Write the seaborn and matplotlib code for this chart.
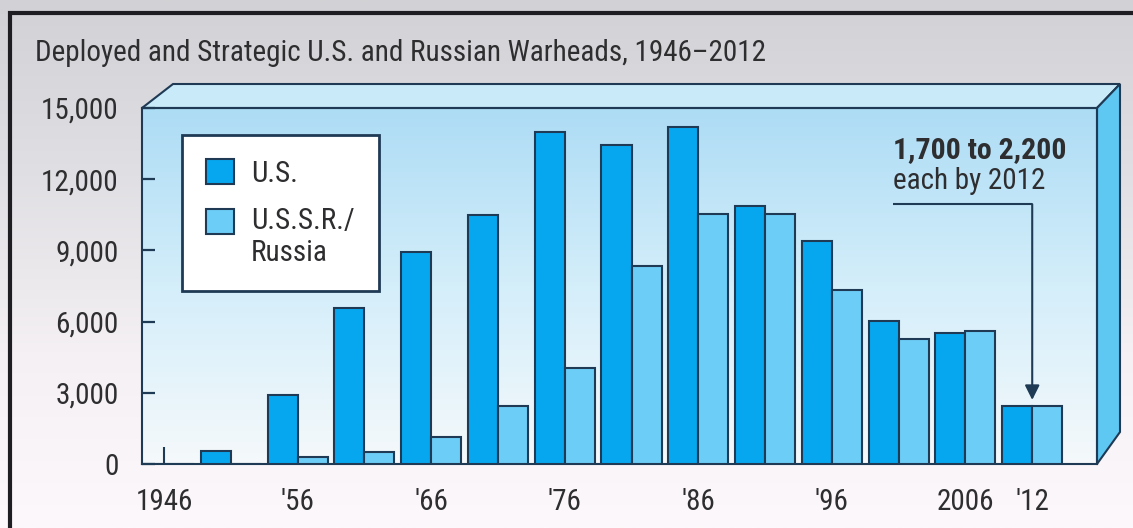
import numpy as np
import pandas as pd
import matplotlib
matplotlib.use('Agg')
import matplotlib.pyplot as plt
import seaborn as sns
from matplotlib import font_manager
from matplotlib.font_manager import FontProperties
from matplotlib.patches import Polygon, Patch, Rectangle
from matplotlib.legend_handler import HandlerPatch
from matplotlib.colors import LinearSegmentedColormap

# ---------------- data ----------------
years = ['1946', '1951', '1956', '1961', '1966', '1971', '1976',
         '1981', '1986', '1991', '1996', '2001', '2006', '2012']
us_warheads = [0, 550, 2900, 6570, 8930, 10490, 13990,
               13450, 14200, 10870, 9400, 6030, 5520, 2440]
russia_warheads = [0, 0, 300, 500, 1140, 2440, 4050,
                   8330, 10520, 10520, 7330, 5270, 5600, 2440]
series_names = ['U.S.', 'U.S.S.R./\nRussia']
x_tick_positions = [0, 2, 4, 6, 8, 10, 12, 13]
x_tick_labels = ['1946', "'56", "'66", "'76", "'86", "'96", '2006', "'12"]
y_ticks = [0, 3000, 6000, 9000, 12000, 15000]
title_text = 'Deployed and Strategic U.S. and Russian Warheads, 1946\u20132012'
note_bold = '1,700 to 2,200'
note_text = 'each by 2012'

# ---------------- style ----------------
US_COL = '#06a7ee'
RU_COL = '#6ccdf6'
EDGE = '#1f3a55'
TXT = '#2e2e30'

sns.set_theme(style='white')


def pick_font(cands):
    for f in cands:
        try:
            font_manager.findfont(FontProperties(family=f), fallback_to_default=False)
            return f
        except Exception:
            continue
    return 'DejaVu Sans'


FONT = pick_font(['Liberation Sans Narrow', 'Roboto Condensed', 'Arial Narrow',
                  'Nimbus Sans Narrow', 'Archivo Narrow', 'Barlow Semi Condensed',
                  'Asap Condensed', 'Liberation Sans'])
plt.rcParams['font.family'] = [FONT, 'DejaVu Sans']

W, H = 1133, 528
fig = plt.figure(figsize=(W / 100, H / 100), dpi=100)


def fx(px):
    return px / W


def fy(py):
    return 1 - py / H


# background axes (figure-fraction coordinates)
bg = fig.add_axes([0, 0, 1, 1], zorder=-10)
bg.set_xlim(0, 1)
bg.set_ylim(0, 1)
bg.axis('off')
grad = np.linspace(0, 1, 256).reshape(-1, 1)
bg_cmap = LinearSegmentedColormap.from_list('bg', ['#d2d2d6', '#e0dfe3', '#f4f0f3', '#fdf8fb'])
bg.imshow(grad, aspect='auto', cmap=bg_cmap, extent=[0, 1, 0, 1], origin='upper', zorder=0)

# frame lines
bg.plot([fx(8), 1], [fy(13), fy(13)], color='#1e1e22', lw=3.0, solid_capstyle='butt', zorder=2)
bg.plot([fx(10), fx(10)], [0, fy(11)], color='#1e1e22', lw=3.0, solid_capstyle='butt', zorder=2)

# box geometry (pixels)
L, R, T, B = 142, 1097, 108, 464
DXL, DXR, DY = 31, 23, 24

# front face gradient
front_cmap = LinearSegmentedColormap.from_list('front', ['#addcf5', '#d4eefa', '#f5f9fb'])
bg.imshow(grad, aspect='auto', cmap=front_cmap,
          extent=[fx(L), fx(R), fy(B), fy(T)], origin='upper', zorder=1)

# top face
top_face = Polygon([(fx(L), fy(T)), (fx(L + DXL), fy(T - DY)),
                    (fx(R + DXR), fy(T - DY)), (fx(R), fy(T))],
                   closed=True, facecolor='#c8eaf9', edgecolor=EDGE, lw=1.5, zorder=3)
bg.add_patch(top_face)
# right face
right_face = Polygon([(fx(R), fy(T)), (fx(R + DXR), fy(T - DY)),
                      (fx(R + DXR), fy(B - 32)), (fx(R), fy(B))],
                     closed=True, facecolor='#5ec7f2', edgecolor=EDGE, lw=1.5, zorder=3)
bg.add_patch(right_face)

# title
fig.text(fx(35), fy(53), title_text, ha='left', va='center', fontsize=21, color=TXT)

# ---------------- main axes ----------------
ax = fig.add_axes([fx(L), fy(B), (R - L) / W, (B - T) / H])
ax.set_facecolor('none')

df = pd.DataFrame({
    'year': years * 2,
    'warheads': us_warheads + russia_warheads,
    'country': [series_names[0]] * len(years) + [series_names[1]] * len(years),
})

sns.barplot(data=df, x='year', y='warheads', hue='country', hue_order=series_names,
            palette=[US_COL, RU_COL], saturation=1, width=0.9,
            edgecolor=EDGE, linewidth=1.5, legend=False, ax=ax, zorder=3)

ax.set_xlim(-0.33, 13.97)
ax.set_ylim(0, 15000)
ax.set_xlabel('')
ax.set_ylabel('')

for s in ax.spines.values():
    s.set_visible(True)
    s.set_color(EDGE)
    s.set_linewidth(1.5)

ax.set_yticks(y_ticks, [f'{v:,}' for v in y_ticks])
ax.tick_params(axis='y', direction='in', length=9.5, width=1.6, color=EDGE,
               pad=17, labelsize=21, labelcolor=TXT, left=True)
ax.set_xticks(x_tick_positions, x_tick_labels)
ax.tick_params(axis='x', which='major', direction='in', bottom=True, length=0,
               width=1.5, color=EDGE, pad=17, labelsize=21, labelcolor=TXT)
# only the 1946 tick mark is drawn
first_tick = ax.xaxis.get_major_ticks()[0]
first_tick.tick1line.set_markersize(12)
first_tick.tick1line.set_markeredgewidth(1.5)
first_tick.tick1line.set_zorder(6)


# legend: square aligned with the first line of a label
class TopHandler(HandlerPatch):
    def __init__(self, shift=0.0, **kw):
        super().__init__(**kw)
        self.shift = shift

    def create_artists(self, legend, orig_handle, xdescent, ydescent,
                       width, height, fontsize, trans):
        p = Rectangle((-xdescent, -ydescent + self.shift * fontsize), width, height,
                      facecolor=orig_handle.get_facecolor(),
                      edgecolor=orig_handle.get_edgecolor(),
                      lw=orig_handle.get_linewidth(), transform=trans)
        return [p]


h_us = Patch(facecolor=US_COL, edgecolor=EDGE, lw=1.5, label=series_names[0])
h_ru = Patch(facecolor=RU_COL, edgecolor=EDGE, lw=1.5, label=series_names[1])
leg = ax.legend(handles=[h_us, h_ru], loc='upper left',
                handler_map={h_us: TopHandler(0.0), h_ru: TopHandler(0.55)},
                bbox_to_anchor=(fx(182), fy(135)), bbox_transform=fig.transFigure,
                frameon=True, fancybox=False, framealpha=1, edgecolor=EDGE,
                fontsize=21, handlelength=0.95, handleheight=0.95,
                handletextpad=0.6, labelspacing=0.66, borderpad=0.82,
                borderaxespad=0)
leg.get_frame().set_linewidth(2.0)
for t in leg.get_texts():
    t.set_color(TXT)
leg.set_zorder(5)

# annotation
n = len(years) - 1
note_x = 10.91
leader_y = 10950
ax.text(note_x, 12890, note_bold, ha='left', va='baseline', fontsize=21.5,
        fontweight='bold', color=TXT, zorder=6)
ax.text(note_x, 11590, note_text, ha='left', va='baseline', fontsize=21,
        color=TXT, zorder=6)
ax.plot([note_x, n], [leader_y, leader_y], color=EDGE, lw=1.5, zorder=6,
        solid_capstyle='butt')
ax.annotate('', xy=(n, max(us_warheads[n], russia_warheads[n]) + 260),
            xytext=(n, leader_y),
            arrowprops=dict(arrowstyle='-|>', color=EDGE, lw=1.5,
                            mutation_scale=22, shrinkA=0, shrinkB=0),
            zorder=6)
ax.set_xlim(-0.33, 13.97)
ax.set_ylim(0, 15000)

fig.savefig('out.png', dpi=100)
